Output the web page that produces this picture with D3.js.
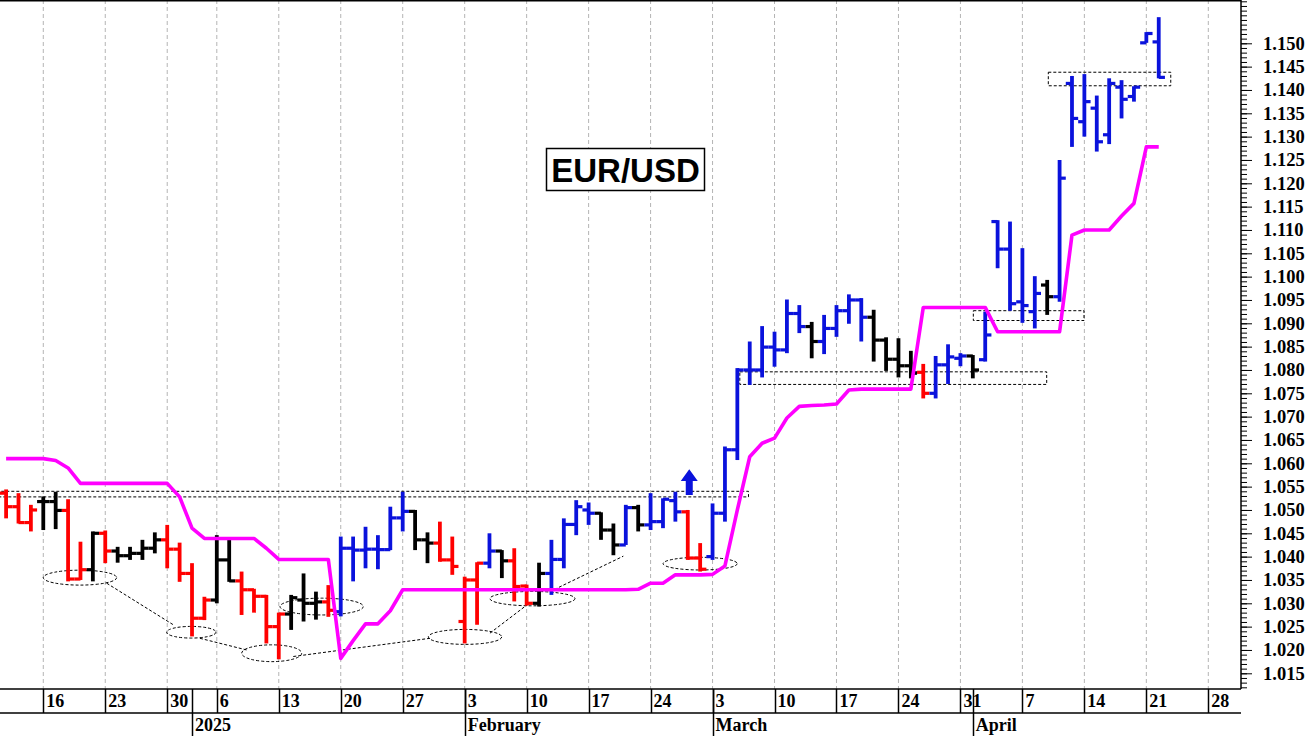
<!DOCTYPE html>
<html>
<head>
<meta charset="utf-8">
<script src="https://cdn.jsdelivr.net/npm/d3@7/dist/d3.min.js"></script>
<style>
  body { margin: 0; background: #fff; }
  svg { display: block; }
</style>
</head>
<body>
<div id="chart"></div>
<script>
// trading days on the axis (day numbers per month)
var decDays = [11, 12, 13, 16, 17, 18, 19, 20, 23, 24, 25, 26, 27, 30, 31];
var janDays = [2, 3, 6, 7, 8, 9, 10, 13, 14, 15, 16, 17, 20, 21, 22, 23, 24, 27, 28, 29, 30, 31];
var febDays = [3, 4, 5, 6, 7, 10, 11, 12, 13, 14, 17, 18, 19, 20, 21, 24, 25, 26, 27, 28];
var marDays = [3, 4, 5, 6, 7, 10, 11, 12, 13, 14, 17, 18, 19, 20, 21, 24, 25, 26, 27, 28, 31];
var aprDays = [1, 2, 3, 4, 7, 8, 9, 10, 11, 14, 15, 16, 17, 18, 21, 22, 23, 24, 25, 28, 29, 30];
var monthNames = ["2025", "February", "March", "April"];

// daily bars
var open = [1.0536, 1.0507, 1.0473, 1.0518, 1.0518, 1.0499, 1.0352, 1.0372, 1.0450, 1.0412,
  1.0402, 1.0407, 1.0418, 1.0436, 1.0416, 1.0364, 1.0268, 1.0307, 1.0393, 1.0348,
  1.0329, 1.0315, 1.0250, 1.0277, 1.0307, 1.0300, 1.0303, 1.0282, 1.0418, 1.0414,
  1.0416, 1.0415, 1.0483, 1.0497, 1.0436, 1.0429, 1.0393, 1.0261, 1.0350, 1.0386,
  1.0412, 1.0391, 1.0337, 1.0300, 1.0364, 1.0394, 1.0469, 1.0500, 1.0493, 1.0457,
  1.0425, 1.0505, 1.0468, 1.0475, 1.0520, 1.0496, 1.0397, 1.0400, 1.0493, 1.0629,
  1.0800, 1.0800, 1.0849, 1.0843, 1.0921, 1.0893, 1.0861, 1.0889, 1.0927, 1.0950,
  1.0913, 1.0864, 1.0823, 1.0809, 1.0795, 1.0750, 1.0811, 1.0825, 1.0830, 1.0822,
  1.1118, 1.1059, 1.0946, 1.0925, 1.0982, 1.0957, 1.1414, 1.1332, 1.1361, 1.1304,
  1.1406, 1.1386, 1.1501, 1.1503];
var high = [1.0544, 1.0536, 1.0511, 1.0529, 1.0539, 1.0523, 1.0432, 1.0454, 1.0456, 1.0421,
  1.0421, 1.0436, 1.0452, 1.0468, 1.0430, 1.0386, 1.0314, 1.0446, 1.0439, 1.0368,
  1.0331, 1.0318, 1.0280, 1.0318, 1.0364, 1.0325, 1.0339, 1.0443, 1.0443, 1.0464,
  1.0446, 1.0507, 1.0539, 1.0500, 1.0452, 1.0475, 1.0443, 1.0357, 1.0388, 1.0450,
  1.0414, 1.0418, 1.0340, 1.0387, 1.0436, 1.0482, 1.0521, 1.0516, 1.0495, 1.0471,
  1.0511, 1.0511, 1.0536, 1.0525, 1.0539, 1.0500, 1.0429, 1.0514, 1.0636, 1.0804,
  1.0861, 1.0894, 1.0882, 1.0951, 1.0939, 1.0903, 1.0918, 1.0939, 1.0962, 1.0954,
  1.0929, 1.0870, 1.0868, 1.0841, 1.0813, 1.0830, 1.0855, 1.0836, 1.0832, 1.0925,
  1.1121, 1.1118, 1.1061, 1.1001, 1.0993, 1.1250, 1.1430, 1.1434, 1.1388, 1.1425,
  1.1421, 1.1408, 1.1524, 1.1556];
var low = [1.0482, 1.0471, 1.0454, 1.0457, 1.0459, 1.0347, 1.0350, 1.0347, 1.0386, 1.0387,
  1.0393, 1.0393, 1.0407, 1.0375, 1.0346, 1.0229, 1.0264, 1.0300, 1.0346, 1.0275,
  1.0280, 1.0214, 1.0180, 1.0243, 1.0261, 1.0265, 1.0271, 1.0272, 1.0347, 1.0375,
  1.0373, 1.0414, 1.0454, 1.0414, 1.0386, 1.0389, 1.0361, 1.0214, 1.0254, 1.0375,
  1.0354, 1.0304, 1.0295, 1.0293, 1.0318, 1.0375, 1.0446, 1.0468, 1.0436, 1.0403,
  1.0425, 1.0454, 1.0457, 1.0461, 1.0475, 1.0393, 1.0368, 1.0393, 1.0475, 1.0607,
  1.0768, 1.0784, 1.0807, 1.0836, 1.0879, 1.0825, 1.0834, 1.0871, 1.0899, 1.0861,
  1.0818, 1.0798, 1.0784, 1.0782, 1.0739, 1.0739, 1.0770, 1.0808, 1.0782, 1.0818,
  1.1018, 1.0927, 1.0901, 1.0889, 1.0918, 1.0946, 1.1278, 1.1300, 1.1268, 1.1284,
  1.1339, 1.1375, 1.1501, 1.1425];
var close = [1.0507, 1.0473, 1.0500, 1.0518, 1.0499, 1.0352, 1.0372, 1.0450, 1.0412, 1.0402,
  1.0407, 1.0418, 1.0436, 1.0416, 1.0364, 1.0268, 1.0307, 1.0393, 1.0348, 1.0329,
  1.0315, 1.0250, 1.0277, 1.0312, 1.0300, 1.0303, 1.0285, 1.0418, 1.0414, 1.0416,
  1.0415, 1.0483, 1.0497, 1.0436, 1.0429, 1.0393, 1.0379, 1.0350, 1.0386, 1.0412,
  1.0391, 1.0336, 1.0300, 1.0364, 1.0394, 1.0469, 1.0507, 1.0493, 1.0457, 1.0425,
  1.0505, 1.0468, 1.0475, 1.0523, 1.0496, 1.0397, 1.0373, 1.0493, 1.0629, 1.0800,
  1.0800, 1.0849, 1.0843, 1.0921, 1.0893, 1.0861, 1.0889, 1.0927, 1.0950, 1.0913,
  1.0864, 1.0823, 1.0809, 1.0793, 1.0750, 1.0811, 1.0828, 1.0830, 1.0800, 1.0875,
  1.1059, 1.0942, 1.0938, 1.0964, 1.0957, 1.1211, 1.1339, 1.1375, 1.1289, 1.1414,
  1.1380, 1.1406, 1.1521, 1.1427];
// r = down, k = neutral, b = up
var trend = ("rrrkkrrkrk" + "kkkrrrrkkr" + "rrrkkkrbbb" + "bbbkkrrrrb" + "krrkbbbbkk" +
  "bkbbbrrbbb" + "bbbbbkbbbb" + "kkkkrbbbkb" + "bbbbkbbbbb" + "bbbb").split("");

// trailing stop line (magenta)
var stop = [1.0610, 1.0610, 1.0610, 1.0610, 1.0606, 1.0590, 1.0557, 1.0557, 1.0557, 1.0557,
  1.0557, 1.0557, 1.0557, 1.0557, 1.0528, 1.0461, 1.0439, 1.0439, 1.0439, 1.0439,
  1.0439, 1.0418, 1.0394, 1.0394, 1.0394, 1.0394, 1.0394, 1.0182, 1.0220, 1.0256,
  1.0256, 1.0284, 1.0329, 1.0329, 1.0329, 1.0329, 1.0329, 1.0329, 1.0329, 1.0329,
  1.0329, 1.0329, 1.0329, 1.0329, 1.0329, 1.0329, 1.0329, 1.0329, 1.0329, 1.0329,
  1.0329, 1.0330, 1.0343, 1.0343, 1.0361, 1.0361, 1.0361, 1.0362, 1.0380, 1.0500,
  1.0614, 1.0643, 1.0654, 1.0697, 1.0722, 1.0724, 1.0725, 1.0727, 1.0757, 1.0759,
  1.0759, 1.0759, 1.0759, 1.0759, 1.0934, 1.0934, 1.0934, 1.0934, 1.0934, 1.0934,
  1.0882, 1.0882, 1.0882, 1.0882, 1.0882, 1.0882, 1.1089, 1.1100, 1.1100, 1.1100,
  1.1130, 1.1157, 1.1278, 1.1278];

// price axis labels
var yTicks = [1.015, 1.020, 1.025, 1.030, 1.035, 1.040, 1.045, 1.050, 1.055, 1.060,
  1.065, 1.070, 1.075, 1.080, 1.085, 1.090, 1.095, 1.100, 1.105, 1.110,
  1.115, 1.120, 1.125, 1.130, 1.135, 1.140, 1.145, 1.150];

// drawn annotations, in bar index / price units
var boxes = [
  { i0: -2, i1: 59.9, lo: 1.0528, hi: 1.0540 },
  { i0: 59.2, i1: 83.96, lo: 1.0769, hi: 1.0796 },
  { i0: 78.04, i1: 86.97, lo: 1.0906, hi: 1.0927 },
  { i0: 84.09, i1: 93.97, lo: 1.1409, hi: 1.1438 }
];
var ellipses = [
  { ci: 5.96, cv: 1.0355, ri: 2.96, rv: 0.0016 },
  { ci: 14.94, cv: 1.0238, ri: 1.99, rv: 0.00125 },
  { ci: 21.43, cv: 1.0193, ri: 2.42, rv: 0.0018 },
  { ci: 25.46, cv: 1.0293, ri: 3.36, rv: 0.0018 },
  { ci: 37.03, cv: 1.0228, ri: 2.96, rv: 0.0016 },
  { ci: 42.47, cv: 1.0310, ri: 3.43, rv: 0.00154 },
  { ci: 56.0, cv: 1.0385, ri: 2.99, rv: 0.00136 }
];
var trendLines = [
  [8.12, 1.0343, 13.49, 1.0254],
  [15.64, 1.0225, 19.41, 1.0200],
  [23.17, 1.0186, 34.2, 1.0225],
  [39.04, 1.0236, 42.0, 1.0296],
  [43.88, 1.0325, 49.8, 1.0401]
];
var arrow = { i: 55.12, tip: 1.0587, head: 1.0562, base: 1.0532 };

var width = 1311, height = 736;
var plotRight = 1241, plotBottom = 689, rowBottom = 713;

var dates = [];
decDays.forEach((d) => dates.push(new Date(2024, 11, d)));
janDays.forEach((d) => dates.push(new Date(2025, 0, d)));
febDays.forEach((d) => dates.push(new Date(2025, 1, d)));
marDays.forEach((d) => dates.push(new Date(2025, 2, d)));
aprDays.forEach((d) => dates.push(new Date(2025, 3, d)));

var svg = d3
  .select("#chart")
  .append("svg")
  .attr("width", width)
  .attr("height", height);

// scales
var x = d3.scaleLinear().domain([0, 99]).range([6.1, 1233.1]);
var y = d3.scaleLinear().domain([1.015, 1.150]).range([673.3, 43.3]);

svg
  .append("clipPath")
  .attr("id", "clip")
  .append("rect")
  .attr("width", plotRight)
  .attr("height", plotBottom);

var plot = svg.append("g").attr("clip-path", "url(#clip)");

// weekly grid
var mondays = d3.range(dates.length).filter((i) => dates[i].getDay() == 1);
plot
  .append("g")
  .selectAll("line")
  .data(mondays)
  .enter()
  .append("line")
  .attr("x1", (i) => x(i))
  .attr("x2", (i) => x(i))
  .attr("y1", 0)
  .attr("y2", plotBottom)
  .attr("stroke", "#b4b4b4")
  .attr("stroke-width", 1)
  .attr("stroke-dasharray", "4,3");

// dotted boxes, ellipses and lines
var notes = plot
  .append("g")
  .attr("fill", "none")
  .attr("stroke", "#000")
  .attr("stroke-width", 1)
  .attr("stroke-dasharray", "3,2");
notes
  .selectAll("rect")
  .data(boxes)
  .enter()
  .append("rect")
  .attr("x", (d) => x(d.i0))
  .attr("y", (d) => y(d.hi))
  .attr("width", (d) => x(d.i1) - x(d.i0))
  .attr("height", (d) => y(d.lo) - y(d.hi));
notes
  .selectAll("ellipse")
  .data(ellipses)
  .enter()
  .append("ellipse")
  .attr("cx", (d) => x(d.ci))
  .attr("cy", (d) => y(d.cv))
  .attr("rx", (d) => x(d.ci + d.ri) - x(d.ci))
  .attr("ry", (d) => y(d.cv - d.rv) - y(d.cv));
notes
  .selectAll("line")
  .data(trendLines)
  .enter()
  .append("line")
  .attr("x1", (d) => x(d[0]))
  .attr("y1", (d) => y(d[1]))
  .attr("x2", (d) => x(d[2]))
  .attr("y2", (d) => y(d[3]));

// OHLC bars
var colors = { r: "#ff0000", k: "#000000", b: "#0a12dc" };
var half = (x(1) - x(0)) / 2;
var bar = plot
  .append("g")
  .selectAll("g")
  .data(d3.range(close.length))
  .enter()
  .append("g")
  .attr("stroke", (i) => colors[trend[i]]);
bar
  .append("line")
  .attr("x1", (i) => x(i))
  .attr("x2", (i) => x(i))
  .attr("y1", (i) => y(high[i]))
  .attr("y2", (i) => y(low[i]))
  .attr("stroke-width", 3.8);
bar
  .append("line")
  .attr("x1", (i) => x(i) - half)
  .attr("x2", (i) => x(i))
  .attr("y1", (i) => y(open[i]))
  .attr("y2", (i) => y(open[i]))
  .attr("stroke-width", 3.2);
bar
  .append("line")
  .attr("x1", (i) => x(i))
  .attr("x2", (i) => x(i) + half)
  .attr("y1", (i) => y(close[i]))
  .attr("y2", (i) => y(close[i]))
  .attr("stroke-width", 3.2);

// magenta stop line
plot
  .append("path")
  .datum(stop)
  .attr("fill", "none")
  .attr("stroke", "#ff00ff")
  .attr("stroke-width", 3.6)
  .attr("stroke-linejoin", "round")
  .attr("d", d3.line().x((d, i) => x(i)).y((d) => y(d)));

// blue arrow
var ax = x(arrow.i);
plot
  .append("path")
  .attr("fill", "#0a12dc")
  .attr(
    "d",
    "M" + ax + "," + y(arrow.tip) +
      "L" + (ax + 8.5) + "," + y(arrow.head) +
      "L" + (ax + 3.5) + "," + y(arrow.head) +
      "L" + (ax + 3.5) + "," + y(arrow.base) +
      "L" + (ax - 3.5) + "," + y(arrow.base) +
      "L" + (ax - 3.5) + "," + y(arrow.head) +
      "L" + (ax - 8.5) + "," + y(arrow.head) + "Z"
  );

// title box
svg
  .append("rect")
  .attr("x", 546.5)
  .attr("y", 148.5)
  .attr("width", 158)
  .attr("height", 42)
  .attr("fill", "#fff")
  .attr("stroke", "#000")
  .attr("stroke-width", 1.5);
svg
  .append("text")
  .attr("x", 625.5)
  .attr("y", 182)
  .attr("text-anchor", "middle")
  .style("font-family", "'Liberation Sans', Arial, sans-serif")
  .style("font-weight", "bold")
  .style("font-size", "33px")
  .text("EUR/USD");

// frame
svg
  .append("line")
  .attr("x1", 0)
  .attr("x2", plotRight)
  .attr("y1", 0.75)
  .attr("y2", 0.75)
  .attr("stroke", "#000")
  .attr("stroke-width", 1.5);
svg
  .append("line")
  .attr("x1", plotRight)
  .attr("x2", plotRight)
  .attr("y1", 0)
  .attr("y2", plotBottom)
  .attr("stroke", "#000")
  .attr("stroke-width", 1.5);

// Add Y axis (right)
var axisFont = "'Liberation Serif', 'Times New Roman', serif";
svg
  .append("g")
  .attr("transform", "translate(" + plotRight + ",0)")
  .call(d3.axisRight(y).tickValues(d3.range(1012, 1160).map((v) => v / 1000)).tickSize(6).tickFormat(""))
  .call((g) => g.select(".domain").remove());
svg
  .append("g")
  .attr("transform", "translate(" + plotRight + ",0)")
  .call(d3.axisRight(y).tickValues(yTicks).tickSize(11).tickPadding(11).tickFormat(d3.format(".3f")))
  .call((g) => g.select(".domain").remove())
  .call((g) =>
    g
      .selectAll("text")
      .style("font-family", axisFont)
      .style("font-weight", "bold")
      .style("font-size", "18.5px")
      .attr("fill", "#000")
  );

// Add X axis (two rows: days, months)
var xAxis = svg.append("g").attr("stroke", "#000").attr("stroke-width", 1.5);
xAxis.append("line").attr("x1", 0).attr("x2", plotRight).attr("y1", plotBottom).attr("y2", plotBottom);
xAxis.append("line").attr("x1", 0).attr("x2", plotRight).attr("y1", rowBottom).attr("y2", rowBottom);

xAxis
  .selectAll(".week")
  .data(mondays)
  .enter()
  .append("line")
  .attr("x1", (i) => Math.round(x(i)) + 0.5)
  .attr("x2", (i) => Math.round(x(i)) + 0.5)
  .attr("y1", plotBottom)
  .attr("y2", rowBottom);

var monthStarts = d3
  .range(1, dates.length)
  .filter((i) => dates[i].getMonth() != dates[i - 1].getMonth());
xAxis
  .selectAll(".month")
  .data(monthStarts)
  .enter()
  .append("line")
  .attr("x1", (i) => Math.round(x(i)) + 0.5)
  .attr("x2", (i) => Math.round(x(i)) + 0.5)
  .attr("y1", plotBottom)
  .attr("y2", height);

var labels = svg
  .append("g")
  .style("font-family", axisFont)
  .style("font-weight", "bold")
  .style("font-size", "18px")
  .attr("fill", "#000");
labels
  .selectAll(".day")
  .data(mondays)
  .enter()
  .append("text")
  .attr("x", (i) => x(i) + 3)
  .attr("y", 707)
  .text((i) => dates[i].getDate());
labels
  .selectAll(".mon")
  .data(monthStarts)
  .enter()
  .append("text")
  .attr("x", (i) => x(i) + 3)
  .attr("y", 731)
  .text((d, k) => monthNames[k]);
</script>
</body>
</html>
